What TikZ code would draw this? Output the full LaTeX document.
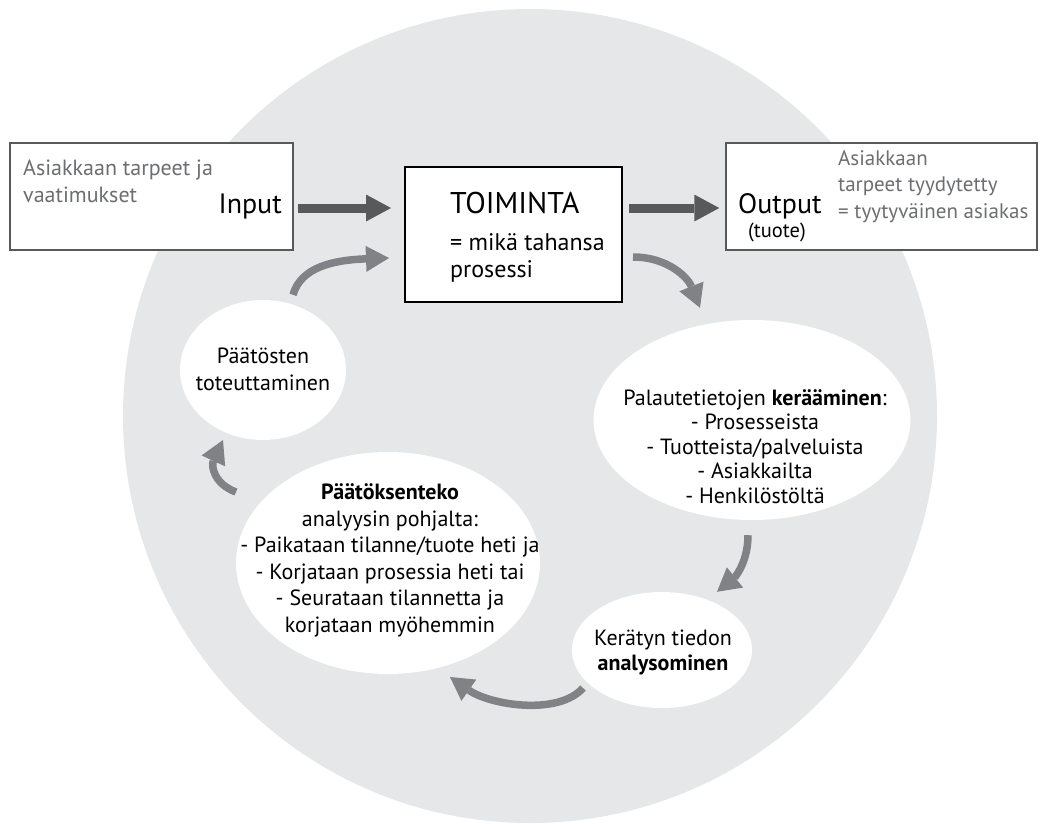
\documentclass[tikz,border=0pt]{standalone}
\usepackage{fontspec}
\setmainfont{PT Sans}
\usetikzlibrary{positioning,shapes.geometric,arrows.meta}

\definecolor{wheelgray}{HTML}{E6E7E8}
\definecolor{textgray}{HTML}{6D6E71}
\definecolor{darkarrow}{HTML}{58595B}
\definecolor{lightarrow}{HTML}{808285}

\begin{document}
\begin{tikzpicture}[x=1pt, y=-1pt,
  bigarrow/.style={draw=darkarrow, line width=9pt,
    -{Triangle[length=25pt, width=27pt, line width=0pt]}},
  cyclearrow/.style={draw=lightarrow, line width=7.5pt,
    -{Triangle[length=23pt, width=26pt, line width=0pt]}},
  sidebox/.style={draw=darkarrow, line width=1.5pt, fill=white,
    inner sep=0pt, minimum height=107pt},
  bubble/.style={ellipse, fill=white, inner sep=0pt},
  txt/.style={inner sep=0pt, font=\fontsize{22}{#1}\selectfont},
  txt/.default=25]
\useasboundingbox (0,0) rectangle (1042,823);

% Draw the background wheel
\node [circle, fill=wheelgray, inner sep=0pt, minimum size=814pt] (wheel) at (530,416) {};

% Draw the boxes
\node [sidebox, minimum width=283pt] (inbox) at (151.5,196.5) {};
\node [sidebox, minimum width=311pt] (outbox) at (881.5,196.5) {};
\node [draw=black, line width=2pt, fill=white, inner sep=0pt,
       minimum width=217pt, minimum height=135pt] (toim) at (513.5,234.5) {};

% Draw the ellipses of the cycle
\node [bubble, minimum width=166pt, minimum height=140pt] (pts) at (263,370) {};
\node [bubble, minimum width=317pt, minimum height=200pt] (kera) at (752,420) {};
\node [bubble, minimum width=180pt, minimum height=116pt] (analys) at (662,650) {};
\node [bubble, minimum width=304pt, minimum height=222pt] (paat) at (388,563) {};

% Input and output arrows
\draw [bigarrow] ([shift={(4,11.5)}]inbox.east) -- ([shift={(-13,-26.5)}]toim.west);
\draw [bigarrow] ([shift={(6,-26.5)}]toim.east) -- ([shift={(-6,11.5)}]outbox.west);

% Arrows of the cycle
\draw [cyclearrow] ([shift={(10,22.5)}]toim.east)
  .. controls +(35,0) and +(-12,-30) .. ([shift={(-52,-12)}]kera.north);
\draw [cyclearrow] ([shift={(-4,15)}]kera.south)
  .. controls +(0,30) and +(15,-12) .. ([shift={(55,0)}]analys.north);
\draw [cyclearrow] ([shift={(-79,38)}]analys.center)
  .. controls +(-25,28) and +(40,28) .. ([shift={(62,114)}]paat.center);
\draw [cyclearrow] ([shift={(-152,-71)}]paat.center)
  .. controls +(-22,-8) and +(-12,26) .. ([shift={(-40,70)}]pts.center);
\draw [cyclearrow] ([shift={(30,-5)}]pts.north)
  .. controls +(8,-28) and +(-55,2) .. ([shift={(-15,23.5)}]toim.west);

% Label the boxes (base = last line)
\node [txt=27, anchor=base west, align=left, text=textgray] (intext) at (23,202)
  {Asiakkaan tarpeet ja\\vaatimukset};
\node [inner sep=0pt, anchor=base east, font=\fontsize{28}{30}\selectfont] (inname) at (282,213) {Input};
\node [inner sep=0pt, anchor=base west, font=\fontsize{30}{32}\selectfont] (toimname) at (450,213) {TOIMINTA};
\node [inner sep=0pt, anchor=base west, align=left, font=\fontsize{24}{27}\selectfont] (toimtext) at (450,277)
  {= mikä tahansa\\prosessi};
\node [inner sep=0pt, anchor=base west, font=\fontsize{28}{30}\selectfont] (outname) at (738,213) {Output};
\node [inner sep=0pt, anchor=base, font=\fontsize{20.5}{22}\selectfont] (outsub) at (777,237) {(tuote)};
\node [inner sep=0pt, anchor=base west, align=left, text=textgray, font=\fontsize{21}{26.5}\selectfont] (outtext) at (838,218)
  {Asiakkaan\\tarpeet tyydytetty\\= tyytyväinen asiakas};

% Label the ellipses
\node [txt=27, anchor=base, align=center] (ptstext) at (263,390)
  {Päätösten\\toteuttaminen};
\node [txt=24.5, anchor=base, align=center] (keratext) at (755,503)
  {Palautetietojen \textbf{kerääminen}:\\- Prosesseista\\- Tuotteista/palveluista\\- Asiakkailta\\- Henkilöstöltä};
\node [txt=25, anchor=base, align=center] (analystext) at (663,670)
  {Kerätyn tiedon\\\textbf{analysominen}};
\node [txt=26.5, anchor=base, align=center] (paattext) at (390,632)
  {\textbf{Päätöksenteko}\\analyysin pohjalta:\\- Paikataan tilanne/tuote heti ja\\- Korjataan prosessia heti tai\\- Seurataan tilannetta ja\\korjataan myöhemmin};
\end{tikzpicture}
\end{document}
